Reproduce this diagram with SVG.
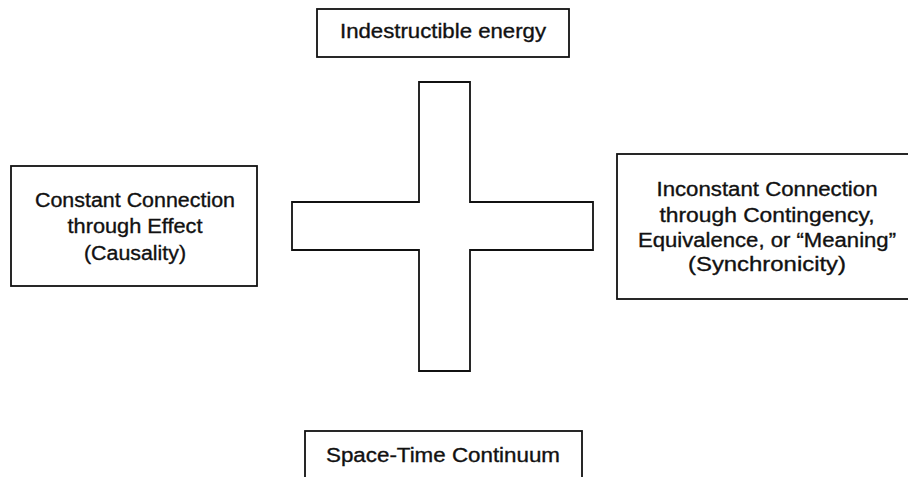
<svg xmlns="http://www.w3.org/2000/svg" width="908" height="477" viewBox="0 0 908 477">
<style>
.box{fill:#fff;stroke:#111;stroke-width:1.8}
.t{font-family:"Liberation Sans",Arial,sans-serif;font-size:20px;fill:#111;stroke:#111;stroke-width:0.35;text-anchor:middle}
</style>
<rect width="908" height="477" fill="#fff"/>
<g id="cross">
<path class="box" d="M419,82 H470 V202 H593 V250 H470 V371 H419 V250 H292 V202 H419 Z"/>
</g>
<g id="top">
<rect class="box" x="317" y="9" width="252" height="48"/>
<text class="t" x="443" y="38" textLength="206" lengthAdjust="spacingAndGlyphs">Indestructible energy</text>
</g>
<g id="left">
<rect class="box" x="11" y="166" width="246" height="120"/>
<text class="t" x="135" y="207" textLength="200" lengthAdjust="spacingAndGlyphs">Constant Connection</text>
<text class="t" x="135" y="233" textLength="135" lengthAdjust="spacingAndGlyphs">through Effect</text>
<text class="t" x="135" y="260" textLength="102" lengthAdjust="spacingAndGlyphs">(Causality)</text>
</g>
<g id="right">
<rect class="box" x="617" y="154" width="300" height="145"/>
<text class="t" x="767" y="196" textLength="221" lengthAdjust="spacingAndGlyphs">Inconstant Connection</text>
<text class="t" x="767" y="222" textLength="215" lengthAdjust="spacingAndGlyphs">through Contingency,</text>
<text class="t" x="767" y="247" textLength="258" lengthAdjust="spacingAndGlyphs">Equivalence, or “Meaning”</text>
<text class="t" x="767" y="271" textLength="158" lengthAdjust="spacingAndGlyphs">(Synchronicity)</text>
</g>
<g id="bottom">
<rect class="box" x="305" y="431" width="277" height="60"/>
<text class="t" x="443" y="462" textLength="234" lengthAdjust="spacingAndGlyphs">Space-Time Continuum</text>
</g>
<g id="connectors"></g>
</svg>
